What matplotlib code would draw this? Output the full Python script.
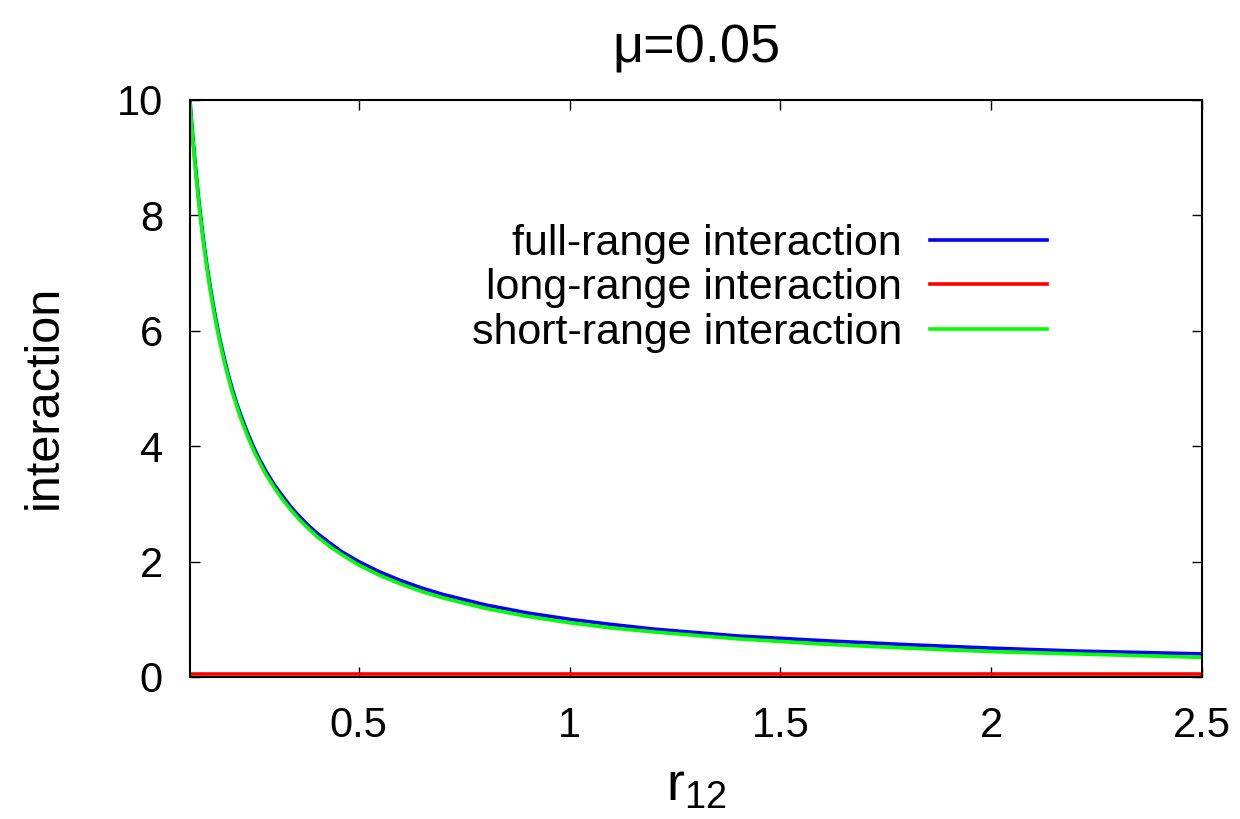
import numpy as np
import matplotlib
matplotlib.use("Agg")
import matplotlib.pyplot as plt
from matplotlib.transforms import IdentityTransform

plt.rcParams['font.family'] = ['Liberation Sans', 'DejaVu Sans']
plt.rcParams['mathtext.default'] = 'regular'

## values
r12 = [0.100, 0.105, 0.110, 0.115, 0.120, 0.125, 0.130, 0.135, 0.140, 0.145,
       0.150, 0.160, 0.170, 0.180, 0.190, 0.200, 0.210, 0.220, 0.235, 0.250,
       0.265, 0.280, 0.300, 0.320, 0.340, 0.360, 0.380, 0.400, 0.430, 0.460,
       0.500, 0.550, 0.600, 0.650, 0.700, 0.800, 0.900, 1.000, 1.100, 1.200,
       1.400, 1.600, 1.800, 2.000, 2.200, 2.500]
full_range = [10.00, 9.52, 9.09, 8.70, 8.33, 8.00, 7.69, 7.41, 7.14, 6.90,
              6.67, 6.25, 5.88, 5.56, 5.26, 5.00, 4.76, 4.55, 4.26, 4.00,
              3.77, 3.57, 3.33, 3.13, 2.94, 2.78, 2.63, 2.50, 2.33, 2.17,
              2.00, 1.82, 1.67, 1.54, 1.43, 1.25, 1.11, 1.00, 0.91, 0.83,
              0.71, 0.63, 0.56, 0.50, 0.45, 0.40]
long_range = [0.056] * len(r12)
short_range = [9.94, 9.47, 9.03, 8.64, 8.28, 7.94, 7.64, 7.35, 7.09, 6.84,
               6.61, 6.19, 5.83, 5.50, 5.21, 4.94, 4.71, 4.49, 4.20, 3.94,
               3.72, 3.51, 3.28, 3.07, 2.89, 2.72, 2.58, 2.44, 2.27, 2.12,
               1.94, 1.76, 1.61, 1.48, 1.37, 1.19, 1.05, 0.94, 0.85, 0.78,
               0.66, 0.57, 0.50, 0.44, 0.40, 0.34]

fig = plt.figure(figsize=(12.4, 8.19), dpi=100)
ax = fig.add_axes([0.1532, 0.1734, 0.8162, 0.7045])

lw = 2.6
ax.plot(r12, full_range, color="#0000ff", lw=lw, label="full-range interaction")
ax.plot(r12, long_range, color="#ff0000", lw=lw, label="long-range interaction")
ax.plot(r12, short_range, color="#00ff00", lw=lw, label="short-range interaction")

ax.set_xlim(0.1, 2.5)
ax.set_ylim(0, 10)
ax.set_xticks([0.5, 1, 1.5, 2, 2.5])
ax.set_xticklabels(["0.5", "1", "1.5", "2", "2.5"])
ax.set_yticks([0, 2, 4, 6, 8, 10])
ax.tick_params(direction="in", length=7, width=1, top=True, right=True,
               labelsize=30)
ax.tick_params(axis="x", pad=21)
ax.tick_params(axis="y", pad=19.5)
for s in ax.spines.values():
    s.set_linewidth(1.5)

ax.set_title("\u03bc=0.05", fontsize=39, pad=27)
ax.set_xlabel("r$_{12}$", fontsize=39)
ax.xaxis.set_label_coords(0.5, -0.146)
ax.set_ylabel("interaction", fontsize=35)
ax.yaxis.set_label_coords(-0.122, 0.485)

ax.legend(loc="upper right", frameon=False, markerfirst=False,
          fontsize=31, handlelength=2.72, handletextpad=0.65,
          labelspacing=0.1, borderpad=0, borderaxespad=0)
ax.get_legend().set_bbox_to_anchor((1047, 819 - 224), transform=IdentityTransform())

fig.savefig("out.png", dpi=100)
